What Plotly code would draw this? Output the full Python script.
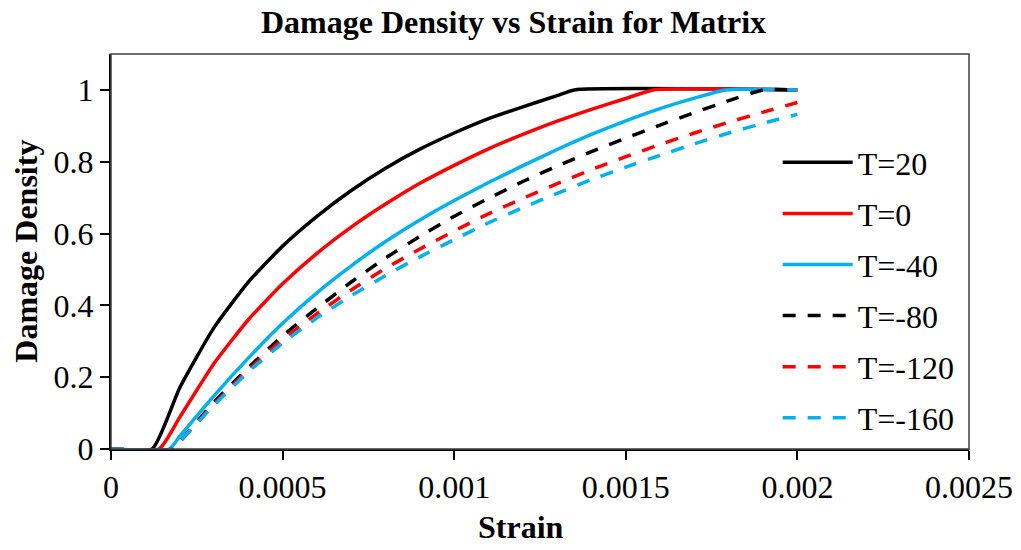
import plotly.graph_objects as go

# ---- data ----
strain_T20 = [0, 0.00012, 0.0002, 0.0003, 0.0004, 0.0005, 0.0006, 0.0007, 0.0008, 0.0009,
              0.001, 0.0011, 0.0012, 0.0013, 0.00135, 0.002]
dmg_T20 = [0, 0, 0.17, 0.338, 0.465, 0.565, 0.648, 0.72, 0.782, 0.835,
           0.88, 0.92, 0.953, 0.984, 1.0, 1.0]

strain_T0 = [0, 0.00014, 0.0002, 0.0003, 0.0004, 0.0005, 0.0006, 0.0007, 0.0008, 0.0009,
             0.001, 0.0011, 0.0012, 0.0013, 0.0014, 0.0015, 0.00158, 0.002]
dmg_T0 = [0, 0, 0.088, 0.238, 0.36, 0.46, 0.545, 0.618, 0.682, 0.74,
          0.79, 0.836, 0.876, 0.913, 0.946, 0.976, 1.0, 1.0]

strain_Tm40 = [0, 0.00017, 0.0002, 0.0003, 0.0004, 0.0005, 0.0006, 0.0007, 0.0008, 0.0009,
               0.001, 0.0011, 0.0012, 0.0013, 0.0014, 0.0015, 0.0016, 0.0017, 0.00179, 0.002]
dmg_Tm40 = [0, 0, 0.035, 0.148, 0.253, 0.35, 0.435, 0.51, 0.578, 0.638,
            0.692, 0.742, 0.789, 0.834, 0.876, 0.914, 0.948, 0.977, 1.0, 1.0]

strain_Tm80 = [0, 0.00018, 0.0002, 0.0003, 0.0004, 0.0005, 0.0006, 0.0007, 0.0008, 0.0009,
               0.001, 0.0011, 0.0012, 0.0013, 0.0014, 0.0015, 0.0016, 0.0017, 0.0018, 0.0019, 0.002]
dmg_Tm80 = [0, 0, 0.02, 0.13, 0.226, 0.315, 0.392, 0.465, 0.532, 0.592,
            0.648, 0.698, 0.745, 0.788, 0.828, 0.866, 0.902, 0.937, 0.97, 1.0, 1.0]

strain_Tm120 = [0, 0.00018, 0.0002, 0.0003, 0.0004, 0.0005, 0.0006, 0.0007, 0.0008, 0.0009,
                0.001, 0.0011, 0.0012, 0.0013, 0.0014, 0.0015, 0.0016, 0.0017, 0.0018, 0.0019, 0.002]
dmg_Tm120 = [0, 0, 0.02, 0.125, 0.22, 0.305, 0.377, 0.443, 0.503, 0.557,
             0.607, 0.655, 0.698, 0.739, 0.778, 0.814, 0.848, 0.88, 0.91, 0.938, 0.965]

strain_Tm160 = [0, 0.00018, 0.0002, 0.0003, 0.0004, 0.0005, 0.0006, 0.0007, 0.0008, 0.0009,
                0.001, 0.0011, 0.0012, 0.0013, 0.0014, 0.0015, 0.0016, 0.0017, 0.0018, 0.0019, 0.002]
dmg_Tm160 = [0, 0, 0.02, 0.122, 0.215, 0.295, 0.365, 0.427, 0.483, 0.535,
             0.583, 0.63, 0.672, 0.712, 0.75, 0.785, 0.818, 0.85, 0.88, 0.907, 0.932]

x_tick_vals = [0, 0.0005, 0.001, 0.0015, 0.002, 0.0025]
x_tick_text = ["0", "0.0005", "0.001", "0.0015", "0.002", "0.0025"]
y_tick_vals = [0, 0.2, 0.4, 0.6, 0.8, 1]
y_tick_text = ["0", "0.2", "0.4", "0.6", "0.8", "1"]

series = [
    ("T=20", strain_T20, dmg_T20, "#000000", "solid"),
    ("T=0", strain_T0, dmg_T0, "#FF0000", "solid"),
    ("T=-40", strain_Tm40, dmg_Tm40, "#00B0F0", "solid"),
    ("T=-80", strain_Tm80, dmg_Tm80, "#000000", "13px,12px"),
    ("T=-120", strain_Tm120, dmg_Tm120, "#FF0000", "13px,12px"),
    ("T=-160", strain_Tm160, dmg_Tm160, "#00B0F0", "13px,12px"),
]

FONT = "Liberation Serif, Times New Roman, serif"
FS = 32

fig = go.Figure()
for i, (name, xs, ys, col, dash) in enumerate(series):
    fig.add_trace(go.Scatter(
        x=xs, y=ys, mode="lines", name=name, legendgroup=str(i),
        line=dict(color=col, width=3.5, dash=dash, shape="spline", smoothing=0.5),
    ))

fig.update_layout(
    width=1021, height=550,
    margin=dict(l=111, r=52, t=54, b=101, autoexpand=False),
    paper_bgcolor="white", plot_bgcolor="white",
    font=dict(family=FONT, size=FS, color="black"),
    title=dict(text="<b>Damage Density vs Strain for Matrix</b>",
               x=0.503, xanchor="center", y=0.96, yanchor="middle",
               font=dict(family=FONT, size=FS, color="black")),
    showlegend=True,
    legend=dict(x=0.777, xanchor="left", y=0.795, yanchor="top",
                bgcolor="rgba(0,0,0,0)", font=dict(family=FONT, size=FS),
                itemwidth=70, tracegroupgap=6.5),
    xaxis=dict(range=[0, 0.0025], tickvals=x_tick_vals, ticktext=x_tick_text,
               showgrid=False, zeroline=False, showline=True, linecolor="black",
               linewidth=2, ticks="outside", ticklen=9, tickwidth=2, tickcolor="black",
               tickfont=dict(family=FONT, size=FS), automargin=False),
    yaxis=dict(range=[0, 1.1], tickvals=y_tick_vals, ticktext=y_tick_text,
               showgrid=False, zeroline=False, showline=True, linecolor="black",
               linewidth=2, ticks="outside", ticklen=9, tickwidth=2, tickcolor="black",
               tickfont=dict(family=FONT, size=FS), automargin=False),
    shapes=[dict(type="rect", xref="paper", yref="paper", x0=0, x1=1, y0=0, y1=1,
                 line=dict(color="#404040", width=1.5), layer="above")],
    annotations=[
        dict(text="<b>Strain</b>", xref="paper", yref="paper", x=0.478, y=-0.198,
             xanchor="center", yanchor="middle", showarrow=False,
             font=dict(family=FONT, size=FS)),
        dict(text="<b>Damage Density</b>", xref="paper", yref="paper", x=-0.1,
             y=0.5, xanchor="center", yanchor="middle", textangle=-90, showarrow=False,
             font=dict(family=FONT, size=FS)),
    ],
)

fig.write_html("out.html")
